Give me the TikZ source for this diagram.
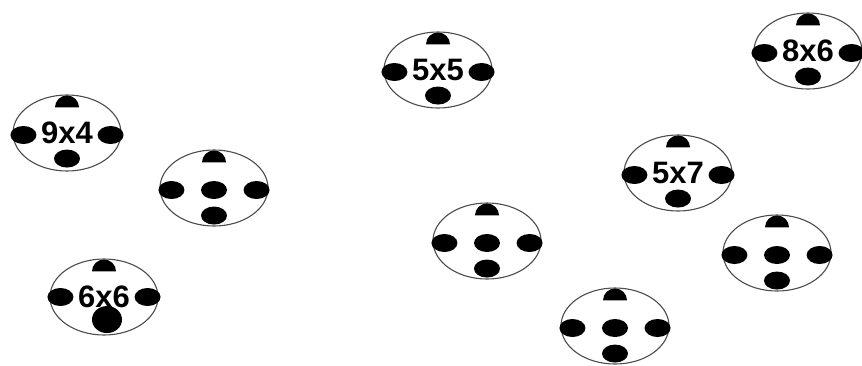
\documentclass[tikz,border=0pt]{standalone}
\usepackage{fontspec}
\setsansfont{Liberation Sans}
\usetikzlibrary{shapes.geometric,calc}

\begin{document}
\begin{tikzpicture}[
    x=1pt, y=1pt,
    plate/.style={draw=black!70, line width=1.1pt, ellipse, minimum width=108pt, minimum height=76pt, inner sep=0pt},
    dot/.style={fill=black, ellipse, minimum width=26pt, minimum height=18pt, inner sep=0pt},
    bigdot/.style={dot, minimum width=30pt, minimum height=27pt},
    fact/.style={font=\sffamily\bfseries\fontsize{31}{31}\selectfont, inner sep=0pt}
]
\useasboundingbox (0,0) rectangle (862,-365);
% plates with a times fact
\foreach \i/\px/\py/\lbl in {1/67/133/9x4, 2/438/70/5x5, 3/808/51/8x6, 4/678/173/5x7} {
    \node[plate] (p\i) at (\px,-\py) {};
    \fill ($(p\i.north)+(-12,-13)$) arc[start angle=180, end angle=0, x radius=12, y radius=12] -- cycle;
    \node[dot, xshift=11pt, yshift=-2pt] (p\i-l) at (p\i.west) {};
    \node[dot, xshift=-11pt, yshift=-2pt] (p\i-r) at (p\i.east) {};
    \node[dot, yshift=13pt] (p\i-b) at (p\i.south) {};
    \node[fact] (p\i-t) at (p\i) {\lbl};
}
\node[plate] (p5) at (104,-297) {};
\fill ($(p5.north)+(-12,-13)$) arc[start angle=180, end angle=0, x radius=12, y radius=12] -- cycle;
\node[dot, xshift=11pt] (p5-l) at (p5.west) {};
\node[dot, xshift=-11pt] (p5-r) at (p5.east) {};
\node[bigdot, xshift=3pt, yshift=16pt] (p5-b) at (p5.south) {};
\node[fact] (p5-t) at (p5) {6x6};
% plates with five dots
\foreach \i/\px/\py in {6/214/188, 7/487/241, 8/615/326, 9/777/253} {
    \node[plate] (p\i) at (\px,-\py) {};
    \fill ($(p\i.north)+(-12,-13)$) arc[start angle=180, end angle=0, x radius=12, y radius=12] -- cycle;
    \node[dot, xshift=12pt, yshift=-2pt] (p\i-l) at (p\i.west) {};
    \node[dot, xshift=-12pt, yshift=-2pt] (p\i-r) at (p\i.east) {};
    \node[dot, yshift=-2pt] (p\i-c) at (p\i) {};
    \node[dot, yshift=11pt] (p\i-b) at (p\i.south) {};
}
\end{tikzpicture}
\end{document}
